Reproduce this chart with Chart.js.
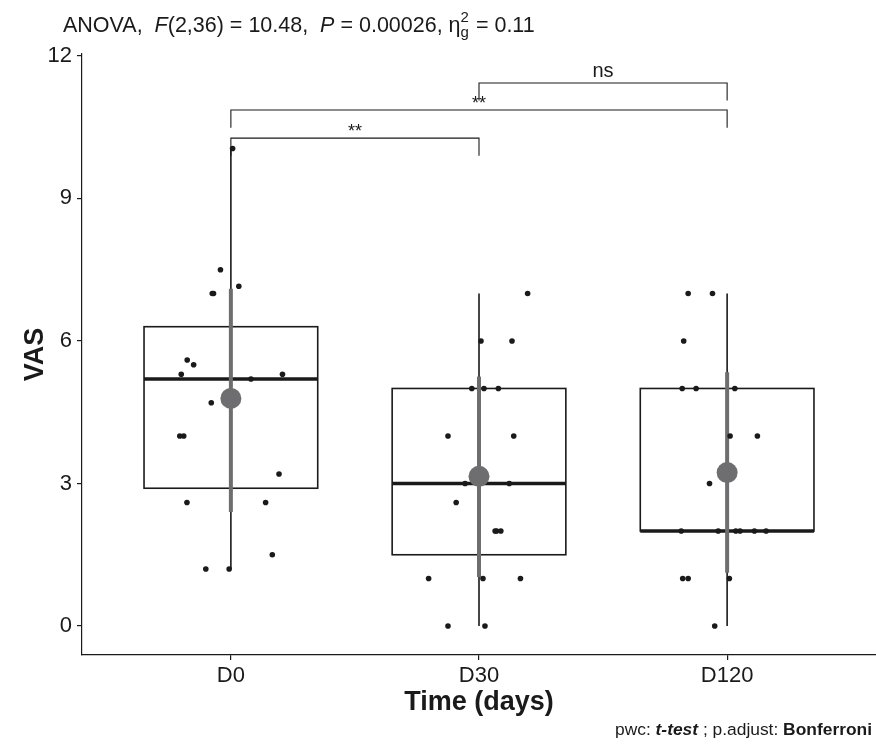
<!DOCTYPE html>
<html><head><meta charset="utf-8">
<script src="https://cdn.jsdelivr.net/npm/chart.js@4.4.1/dist/chart.umd.min.js"></script>
<style>html,body{margin:0;padding:0;background:#fff;} #wrap{width:876px;height:748px;}</style>
</head><body><div id="wrap"><canvas id="c" width="876" height="748"></canvas></div>
<script>
// ---- data ----
const categories = ['D0', 'D30', 'D120'];
const yTicks = [0, 3, 6, 9, 12];

const d0Values = [10.05, 7.5, 7.15, 7.0, 7.0, 5.6, 5.5, 5.3, 5.2, 5.3, 4.7, 4.0, 4.0, 3.2, 2.6, 2.6, 1.5, 1.2, 1.2];
const d0Jitter = [0.007, -0.042, 0.032, -0.075, -0.07, -0.176, -0.150, -0.200, 0.081, 0.208, -0.079, -0.206, -0.190, 0.194, -0.177, 0.140, 0.167, -0.101, -0.007];

const d30Values = [7.0, 6.0, 6.0, 5.0, 5.0, 5.0, 4.0, 4.0, 3.0, 3.0, 2.6, 2.0, 2.0, 2.0, 1.0, 1.0, 1.0, 0.0, 0.0];
const d30Jitter = [0.196, 0.008, 0.133, -0.029, 0.020, 0.078, -0.125, 0.140, -0.056, 0.122, -0.092, 0.065, 0.071, 0.088, -0.203, 0.016, 0.167, -0.125, 0.024];

const d120Values = [7.0, 7.0, 6.0, 5.0, 5.0, 5.0, 4.0, 4.0, 3.0, 2.0, 2.0, 2.0, 2.0, 2.0, 2.0, 1.0, 1.0, 1.0, 0.0];
const d120Jitter = [-0.157, -0.059, -0.175, -0.181, -0.125, 0.031, 0.012, 0.122, -0.071, -0.185, -0.036, 0.035, 0.052, 0.110, 0.157, -0.179, -0.157, 0.009, -0.050];

const boxQ1 = [2.9, 1.5, 2.0];
const boxMedian = [5.2, 3.0, 2.0];
const boxQ3 = [6.3, 5.0, 5.0];
const whiskerLow = [1.2, 0.0, 0.0];
const whiskerHigh = [10.05, 7.0, 7.0];

const means = [4.79, 3.15, 3.23];
const sdLow = [2.40, 1.03, 1.12];
const sdHigh = [7.10, 5.25, 5.34];

const bracketFrom = [0, 0, 1];
const bracketTo = [1, 2, 2];
const bracketY = [10.27, 10.86, 11.43];
const bracketLabels = ['**', '**', 'ns'];
const bracketTip = 0.37;

// ---- build datasets ----
const groupValues = [d0Values, d30Values, d120Values];
const groupJitter = [d0Jitter, d30Jitter, d120Jitter];
const jitterPoints = [];
groupValues.forEach((vals, g) => vals.forEach((v, k) => jitterPoints.push({x: g + 1 + groupJitter[g][k], y: v})));

const FONT = "'Liberation Sans', Arial, Helvetica, sans-serif";
const INK = '#1a1a1a';
const GRAY = '#6e6e70';

const datasets = [];
datasets.push({type: 'scatter', data: jitterPoints, pointRadius: 2.8, pointHoverRadius: 2.8,
  backgroundColor: INK, borderWidth: 0, order: 1});
datasets.push({type: 'scatter', data: means.map((m, i) => ({x: i + 1, y: m})), pointRadius: 10.5,
  pointHoverRadius: 10.5, backgroundColor: GRAY, borderWidth: 0, order: 2});
categories.forEach((c, i) => {
  datasets.push({type: 'line', data: [{x: i + 1, y: sdLow[i]}, {x: i + 1, y: sdHigh[i]}],
    borderColor: GRAY, borderWidth: 4, pointRadius: 0, borderCapStyle: 'butt', order: 3});
});

const boxHalf = 0.35;
const boxPlugin = {
  id: 'boxes',
  beforeDatasetsDraw(chart) {
    const {ctx, scales: {x, y}} = chart;
    ctx.save();
    categories.forEach((c, i) => {
      const cx = i + 1;
      const xl = x.getPixelForValue(cx - boxHalf), xr = x.getPixelForValue(cx + boxHalf), xc = x.getPixelForValue(cx);
      ctx.strokeStyle = INK;
      ctx.lineWidth = 1.6;
      ctx.beginPath();
      ctx.moveTo(xc, y.getPixelForValue(whiskerHigh[i])); ctx.lineTo(xc, y.getPixelForValue(boxQ3[i]));
      ctx.moveTo(xc, y.getPixelForValue(boxQ1[i])); ctx.lineTo(xc, y.getPixelForValue(whiskerLow[i]));
      ctx.stroke();
      const yt = y.getPixelForValue(boxQ3[i]), yb = y.getPixelForValue(boxQ1[i]);
      ctx.fillStyle = '#fff';
      ctx.fillRect(xl, yt, xr - xl, yb - yt);
      ctx.strokeRect(xl, yt, xr - xl, yb - yt);
      ctx.lineWidth = 3.4;
      ctx.beginPath();
      const ym = y.getPixelForValue(boxMedian[i]);
      ctx.moveTo(xl, ym); ctx.lineTo(xr, ym);
      ctx.stroke();
    });
    ctx.restore();
  },
  afterDraw(chart) {
    const {ctx, scales: {x, y}} = chart;
    ctx.save();
    // brackets
    ctx.strokeStyle = INK;
    ctx.lineWidth = 1.1;
    ctx.fillStyle = INK;
    ctx.textAlign = 'center';
    ctx.textBaseline = 'alphabetic';
    bracketLabels.forEach((lab, i) => {
      const x1 = x.getPixelForValue(bracketFrom[i] + 1), x2 = x.getPixelForValue(bracketTo[i] + 1);
      const yb = y.getPixelForValue(bracketY[i]), yt = y.getPixelForValue(bracketY[i] - bracketTip);
      ctx.beginPath();
      ctx.moveTo(x1, yt); ctx.lineTo(x1, yb); ctx.lineTo(x2, yb); ctx.lineTo(x2, yt);
      ctx.stroke();
      const star = lab.indexOf('*') >= 0;
      ctx.font = (star ? '18px ' : '20px ') + FONT;
      ctx.fillText(lab, (x1 + x2) / 2, yb - (star ? 1 : 6));
    });
    // title
    let tx = 63, ty = 32;
    const seg = (t, style) => { ctx.font = style + FONT; ctx.textAlign = 'left'; ctx.fillText(t, tx, ty); tx += ctx.measureText(t).width; };
    seg('ANOVA,  ', '21.5px ');
    seg('F', 'italic 21.5px ');
    seg('(2,36) = 10.48,  ', '21.5px ');
    seg('P', 'italic 21.5px ');
    seg(' = 0.00026, ', '21.5px ');
    seg('\u03B7', '21.5px ');
    ctx.font = '15px ' + FONT;
    ctx.fillText('g', tx, ty + 5);
    ctx.fillText('2', tx, ty - 10);
    tx += ctx.measureText('g').width + 1;
    seg(' = 0.11', '21.5px ');
    // caption
    const parts = [['pwc: ', '17.4px '], ['t-test', 'bold italic 17.4px '], [' ; p.adjust: ', '17.4px '], ['Bonferroni', 'bold 17.4px ']];
    let total = 0;
    parts.forEach(p => { ctx.font = p[1] + FONT; total += ctx.measureText(p[0]).width; });
    tx = 872 - total; ty = 735;
    parts.forEach(p => seg(p[0], p[1]));
    ctx.restore();
  }
};

new Chart(document.getElementById('c'), {
  type: 'scatter',
  data: {datasets},
  plugins: [boxPlugin],
  options: {
    responsive: false,
    devicePixelRatio: 1,
    animation: false,
    events: [],
    layout: {autoPadding: false, padding: {left: 0, right: 0, top: 54, bottom: 0}},
    plugins: {legend: {display: false}, tooltip: {enabled: false}, title: {display: false}},
    scales: {
      x: {
        type: 'linear', min: 0.4, max: 3.6,
        afterFit: s => { s.height = 93; s.paddingLeft = 0; s.paddingRight = 0; },
        afterBuildTicks: s => { s.ticks = categories.map((c, i) => ({value: i + 1})); },
        ticks: {callback: (v) => categories[Math.round(v) - 1], color: INK, font: {family: FONT, size: 22}, padding: 3, autoSkip: false, maxRotation: 0},
        grid: {display: true, drawOnChartArea: false, drawTicks: true, tickLength: 5, color: INK, lineWidth: 1.2},
        border: {display: true, color: INK, width: 1.2},
        title: {display: true, text: 'Time (days)', color: INK, font: {family: FONT, size: 27, weight: 'bold'}, padding: {top: 0, bottom: 29}}
      },
      y: {
        type: 'linear', min: -0.61, max: 12.04,
        afterFit: s => { s.width = 82; s.paddingTop = 0; s.paddingBottom = 0; },
        afterBuildTicks: s => { s.ticks = yTicks.map(v => ({value: v})); },
        ticks: {color: INK, font: {family: FONT, size: 22}, padding: 5},
        grid: {display: true, drawOnChartArea: false, drawTicks: true, tickLength: 5, color: INK, lineWidth: 1.2},
        border: {display: true, color: INK, width: 1.2},
        title: {display: true, text: 'VAS', color: INK, font: {family: FONT, size: 27, weight: 'bold'}, padding: {top: 19, bottom: 0}}
      }
    }
  }
});
</script></body></html>
